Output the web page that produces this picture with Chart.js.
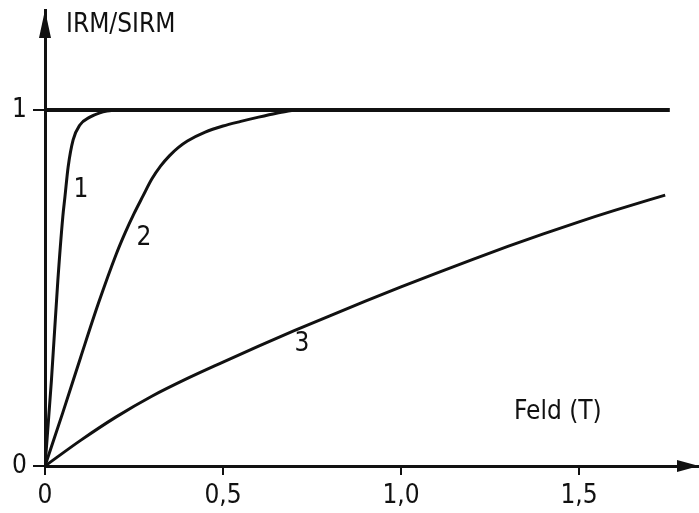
<!DOCTYPE html>
<html>
<head>
<meta charset="utf-8">
<script src="https://cdn.jsdelivr.net/npm/chart.js@4"></script>
<style>
  html, body { margin: 0; padding: 0; background: #fff; }
  canvas { display: block; }
</style>
</head>
<body>
<canvas id="irmChart" width="699" height="513"></canvas>
<script>
// Field values (T) and IRM/SIRM
const curve1X = [0, 0.018, 0.036, 0.05, 0.056, 0.065, 0.079, 0.098, 0.126, 0.154, 0.174, 0.2];
const curve1Y = [0, 0.24, 0.52, 0.70, 0.756, 0.84, 0.916, 0.958, 0.98, 0.992, 0.997, 1.0];

const curve2X = [0, 0.05, 0.1, 0.15, 0.2, 0.225, 0.25, 0.275, 0.3, 0.325, 0.35, 0.375, 0.4, 0.45, 0.5, 0.55, 0.6, 0.65, 0.7];
const curve2Y = [0, 0.15, 0.305, 0.457, 0.595, 0.655, 0.709, 0.758, 0.806, 0.843, 0.872, 0.895, 0.913, 0.938, 0.955, 0.968, 0.98, 0.991, 1.0];

const curve3X = [0, 0.1, 0.2, 0.3, 0.4, 0.5, 0.6, 0.7, 0.8, 0.9, 1.0, 1.1, 1.2, 1.3, 1.4, 1.5, 1.6, 1.742];
const curve3Y = [0, 0.072, 0.138, 0.196, 0.246, 0.292, 0.337, 0.38, 0.422, 0.463, 0.503, 0.542, 0.58, 0.617, 0.652, 0.686, 0.718, 0.761];

const saturationX = [0, 1.755];
const saturationY = [1, 1];

const xTickValues = [0, 0.5, 1.0, 1.5];
const xTickLabels = ['0', '0,5', '1,0', '1,5'];
const yTickValues = [0, 1];
const yTickLabels = ['0', '1'];

const curveLabels = [
    { text: '1', x: 0.101, y: 0.774 },
    { text: '2', x: 0.278, y: 0.64 },
    { text: '3', x: 0.722, y: 0.341 }
];

const FONT = '"DejaVu Sans Condensed", "DejaVu Sans", sans-serif';

const toPoints = (xs, ys) => xs.map((x, i) => ({ x: x, y: ys[i] }));

const curveStyle = {
    borderColor: '#111',
    borderWidth: 3,
    pointRadius: 0,
    fill: false,
    cubicInterpolationMode: 'monotone'
};

// axis arrows, axis titles and curve numbers
const annotatePlugin = {
    id: 'annotate',
    afterDraw(chart) {
        const ctx = chart.ctx;
        const xs = chart.scales.x;
        const ys = chart.scales.y;
        const ox = xs.getPixelForValue(0);
        const oy = ys.getPixelForValue(0);
        const area = chart.chartArea;

        ctx.save();
        ctx.fillStyle = '#111';

        // x arrow
        ctx.beginPath();
        ctx.moveTo(area.right, oy);
        ctx.lineTo(area.right - 22, oy - 6);
        ctx.lineTo(area.right - 22, oy + 6);
        ctx.closePath();
        ctx.fill();

        // y arrow
        ctx.beginPath();
        ctx.moveTo(ox, area.top);
        ctx.lineTo(ox - 6, area.top + 28);
        ctx.lineTo(ox + 6, area.top + 28);
        ctx.closePath();
        ctx.fill();

        ctx.font = '26px ' + FONT;
        ctx.textBaseline = 'middle';
        ctx.textAlign = 'left';
        ctx.fillText('IRM/SIRM', 66, 25);
        ctx.fillText('Feld (T)', 514, 412);

        ctx.textAlign = 'center';
        curveLabels.forEach(l => {
            ctx.fillText(l.text, xs.getPixelForValue(l.x), ys.getPixelForValue(l.y));
        });
        ctx.restore();
    }
};

new Chart(document.getElementById('irmChart'), {
    type: 'line',
    data: {
        datasets: [
            Object.assign({ label: 'Sättigung', data: toPoints(saturationX, saturationY) }, curveStyle, { borderWidth: 4 }),
            Object.assign({ label: '1', data: toPoints(curve1X, curve1Y) }, curveStyle),
            Object.assign({ label: '2', data: toPoints(curve2X, curve2Y) }, curveStyle),
            Object.assign({ label: '3', data: toPoints(curve3X, curve3Y) }, curveStyle)
        ]
    },
    options: {
        responsive: false,
        animation: false,
        devicePixelRatio: 1,
        layout: { padding: { top: 10, left: 0, right: 0, bottom: 0 } },
        plugins: {
            legend: { display: false },
            tooltip: { enabled: false }
        },
        scales: {
            x: {
                type: 'linear',
                min: 0,
                max: 1.837,
                afterBuildTicks: scale => { scale.ticks = xTickValues.map(v => ({ value: v })); },
                afterFit: scale => { scale.height = 47; },
                ticks: {
                    color: '#111',
                    padding: 6,
                    maxRotation: 0,
                    font: { family: FONT, size: 26 },
                    callback: value => xTickLabels[xTickValues.indexOf(value)]
                },
                grid: { drawOnChartArea: false, drawTicks: true, tickLength: 9, lineWidth: 2, color: '#111' },
                border: { display: true, width: 3, color: '#111' }
            },
            y: {
                type: 'linear',
                min: 0,
                max: 1.281,
                afterBuildTicks: scale => { scale.ticks = yTickValues.map(v => ({ value: v })); },
                afterFit: scale => {
                    scale.width = 45;
                    scale.paddingTop = 0;
                    scale.paddingBottom = 0;
                },
                ticks: {
                    color: '#111',
                    padding: 6,
                    font: { family: FONT, size: 26 },
                    callback: value => yTickLabels[yTickValues.indexOf(value)]
                },
                grid: { drawOnChartArea: false, drawTicks: true, tickLength: 12, lineWidth: 2, color: '#111' },
                border: { display: true, width: 3, color: '#111' }
            }
        }
    },
    plugins: [annotatePlugin]
});
</script>
</body>
</html>
